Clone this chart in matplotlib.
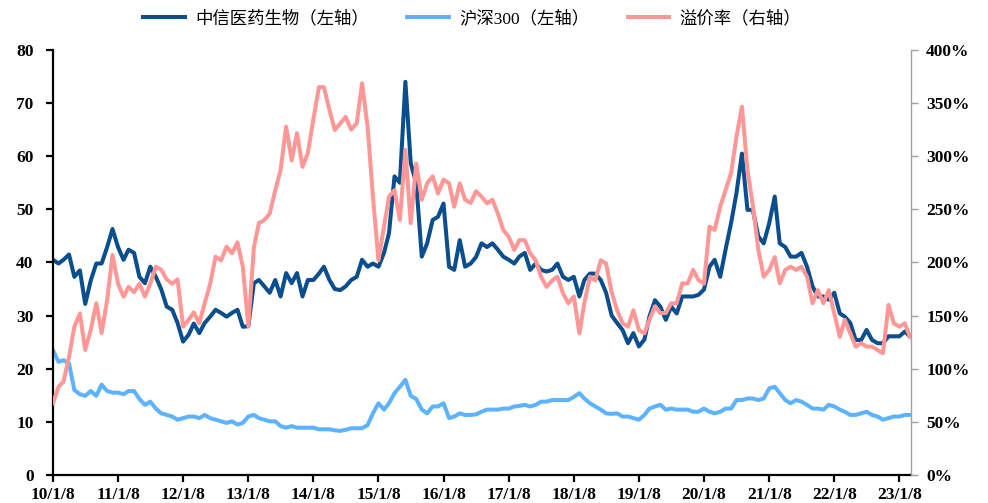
import matplotlib
matplotlib.use("Agg")
import matplotlib.pyplot as plt
import matplotlib.dates as mdates
from matplotlib.ticker import FuncFormatter
import pandas as pd

# monthly samples, 2010-01-08 .. 2023-03-08
start_date = "2010-01-08"

pharma = [
    40.5, 39.8, 40.5, 41.5, 37.3, 38.5, 32.2, 36.6, 39.8, 39.8, 42.9, 46.3,
    42.9, 40.5, 42.4, 41.8, 37.3, 36.1, 39.2, 37.3, 34.9, 31.7, 31.1, 28.6,
    25.1, 26.4, 28.5, 26.7, 28.6, 29.8, 31.1, 30.5, 29.8, 30.5, 31.1, 27.9,
    28.0, 36.1, 36.7, 35.5, 34.3, 36.7, 33.6, 38.0, 36.1, 38.0, 33.6, 36.7,
    36.7, 37.9, 39.2, 36.7, 35.0, 34.8, 35.5, 36.7, 37.3, 40.5, 39.2, 39.8,
    39.2, 41.8, 45.5, 56.2, 55.0, 74.0, 58.7, 54.9, 41.1, 43.6, 48.0, 48.6,
    51.1, 39.2, 38.6, 44.2, 39.2, 39.8, 41.0, 43.6, 42.9, 43.6, 42.4, 41.1,
    40.5, 39.8, 41.1, 41.8, 38.6, 39.8, 38.6, 38.3, 38.6, 39.8, 37.3, 36.7,
    37.3, 33.6, 36.7, 37.9, 37.9, 36.7, 34.3, 30.0, 28.6, 27.3, 24.8, 26.7,
    24.2, 25.5, 29.8, 32.9, 31.7, 29.2, 31.7, 30.4, 33.6, 33.6, 33.6, 33.9,
    34.9, 39.2, 40.5, 37.3, 42.4, 47.4, 53.0, 60.5, 49.9, 49.9, 44.9, 43.6,
    47.4, 52.4, 43.6, 42.9, 41.1, 41.1, 41.8, 39.2, 35.5, 33.6, 33.6, 33.0,
    34.3, 30.4, 29.8, 28.6, 25.4, 25.4, 27.3, 25.4, 24.8, 24.8, 26.1, 26.1,
    26.1, 27.0, 26.1,
]

hs300 = [
    23.5, 21.3, 21.6, 21.0, 16.0, 15.2, 14.9, 15.8, 14.9, 17.0, 15.8, 15.5,
    15.5, 15.2, 15.8, 15.8, 14.3, 13.2, 13.8, 12.5, 11.6, 11.3, 11.0, 10.4,
    10.7, 11.0, 11.0, 10.7, 11.3, 10.7, 10.4, 10.1, 9.8, 10.1, 9.5, 9.8,
    11.0, 11.3, 10.7, 10.4, 10.1, 10.1, 9.2, 8.9, 9.2, 8.9, 8.9, 8.9,
    8.9, 8.6, 8.6, 8.6, 8.4, 8.3, 8.5, 8.8, 8.8, 8.8, 9.4, 11.6,
    13.5, 12.3, 13.5, 15.4, 16.6, 17.9, 14.9, 14.3, 12.3, 11.6, 12.9, 12.9,
    13.5, 10.7, 11.0, 11.6, 11.3, 11.3, 11.4, 11.9, 12.3, 12.3, 12.3, 12.5,
    12.5, 12.9, 13.0, 13.2, 12.9, 13.2, 13.8, 13.8, 14.1, 14.1, 14.1, 14.1,
    14.7, 15.4, 14.4, 13.5, 12.9, 12.3, 11.6, 11.5, 11.6, 11.0, 11.0, 10.7,
    10.4, 11.3, 12.5, 12.9, 13.2, 12.3, 12.5, 12.3, 12.3, 12.3, 11.9, 11.9,
    12.5, 11.9, 11.6, 11.9, 12.5, 12.5, 14.1, 14.1, 14.4, 14.4, 14.1, 14.4,
    16.3, 16.6, 15.4, 14.1, 13.5, 14.1, 13.8, 13.2, 12.5, 12.5, 12.3, 13.2,
    12.9, 12.3, 11.9, 11.3, 11.3, 11.6, 11.9, 11.3, 11.0, 10.4, 10.7, 11.0,
    11.0, 11.3, 11.3,
]

premium = [
    67.5, 83.0, 87.8, 111.0, 139.6, 152.0, 117.6, 136.5, 161.6, 133.6, 164.7, 207.0,
    180.0, 167.8, 177.0, 172.0, 180.0, 168.0, 180.0, 196.0, 193.0, 184.0, 180.0, 184.0,
    139.6, 146.0, 153.0, 142.7, 161.6, 180.0, 205.4, 202.0, 214.9, 208.6, 219.0, 196.0,
    140.0, 214.0, 237.0, 240.0, 246.0, 268.0, 287.0, 327.8, 296.0, 321.6, 290.0, 303.0,
    335.0, 365.0, 365.0, 343.5, 324.7, 331.0, 337.0, 325.0, 331.0, 368.6, 327.8, 262.0,
    202.0, 233.7, 262.0, 268.0, 240.0, 306.0, 237.0, 293.0, 259.0, 274.5, 281.0, 265.0,
    278.0, 274.5, 252.5, 274.5, 259.0, 256.0, 267.0, 262.0, 255.7, 259.0, 246.0, 230.6,
    224.0, 211.8, 221.0, 221.0, 208.6, 202.0, 186.6, 177.0, 183.0, 186.6, 171.0, 161.6,
    168.0, 133.3, 161.6, 186.6, 183.0, 202.0, 199.0, 172.0, 155.0, 143.0, 139.6, 155.0,
    136.5, 133.3, 146.0, 158.7, 152.4, 152.4, 161.6, 161.6, 180.4, 180.0, 193.0, 183.5,
    180.0, 233.7, 230.6, 252.5, 268.0, 284.0, 318.0, 346.6, 287.0, 254.0, 211.8, 186.6,
    193.0, 205.0, 180.4, 193.0, 196.0, 193.0, 196.0, 186.6, 161.6, 174.0, 161.6, 174.0,
    152.2, 130.0, 146.0, 133.3, 120.8, 124.0, 120.8, 120.8, 117.6, 114.5, 160.0, 142.7,
    139.6, 142.7, 130.0,
]

legend_labels = ["中信医药生物（左轴）", "沪深300（左轴）", "溢价率（右轴）"]
dark_blue = "#0A4E8E"
light_blue = "#5DB3FF"
pink = "#FF9797"

dates = pd.date_range(start=start_date, periods=len(pharma), freq=pd.DateOffset(months=1))
tick_dates = pd.date_range(start=start_date, periods=14, freq=pd.DateOffset(years=1))

plt.rcParams["font.family"] = ["Liberation Serif", "Noto Sans CJK SC"]

fig = plt.figure(figsize=(9.88, 5.03), dpi=100)
ax = fig.add_axes([0.0536, 0.0557, 0.8684, 0.845])
ax2 = ax.twinx()

l1, = ax.plot(dates, pharma, color=dark_blue, lw=2.9, label=legend_labels[0])
l2, = ax.plot(dates, hs300, color=light_blue, lw=2.9, label=legend_labels[1])
l3, = ax2.plot(dates, premium, color=pink, lw=2.9, label=legend_labels[2])

ax.set_xlim(pd.Timestamp("2010-01-08"), pd.Timestamp("2023-03-14"))
ax.set_ylim(0, 80)
ax2.set_ylim(0, 400)
ax.set_yticks(range(0, 81, 10))
ax2.set_yticks(range(0, 401, 50))
ax2.yaxis.set_major_formatter(FuncFormatter(lambda v, p: f"{int(v)}%"))

ax.set_xticks(tick_dates)
ax.set_xticklabels([f"{d.year % 100}/1/8" for d in tick_dates])

for a in (ax, ax2):
    a.spines["top"].set_visible(False)
ax.spines["left"].set_linewidth(1.6)
ax.spines["bottom"].set_linewidth(1.6)
ax.spines["right"].set_visible(False)
ax2.spines["left"].set_visible(False)
ax2.spines["bottom"].set_visible(False)
ax2.spines["right"].set_color("#A0A0A0")
ax2.spines["right"].set_linewidth(1.0)

ax.tick_params(axis="both", direction="out", length=5, width=1.6, labelsize=12.5)
ax.tick_params(axis="y", pad=9)
ax.tick_params(axis="x", pad=4)
ax2.tick_params(axis="y", direction="out", length=5, width=1.0, color="#A0A0A0", labelsize=12.5, pad=6)
for lab in ax.get_xticklabels() + ax.get_yticklabels() + ax2.get_yticklabels():
    lab.set_fontweight("bold")

fig.legend(handles=[l1, l2, l3], loc="upper center", bbox_to_anchor=(0.478, 1.01),
           ncol=3, frameon=False, fontsize=12.5, handlelength=2.4, columnspacing=2.2,
           handletextpad=0.6)

fig.savefig("out.png", dpi=100)
